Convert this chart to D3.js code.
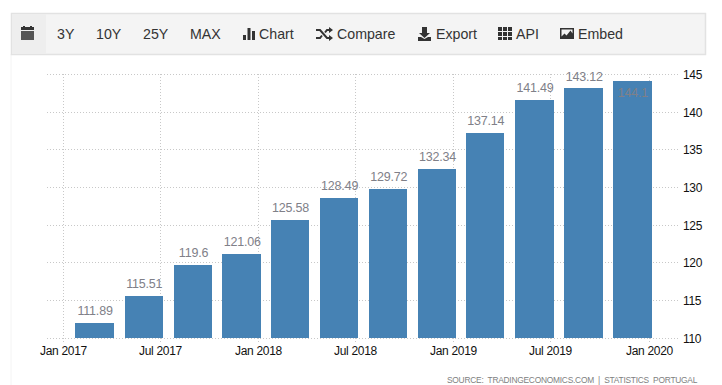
<!DOCTYPE html>
<html>
<head>
<meta charset="utf-8">
<script src="https://cdn.jsdelivr.net/npm/d3@7"></script>
<style>
html, body { margin: 0; padding: 0; background: #fff; }
svg { display: block; font-family: "Liberation Sans", Arial, sans-serif; }
.tick text { fill: #111; font-size: 12px; letter-spacing: -0.3px; }
.grid line, .grid path { stroke: #c8c8c8; stroke-dasharray: 1,2; }
.menu text { fill: #333; font-size: 14.2px; }
</style>
</head>
<body>
<div id="chart"></div>
<script>
var quarters = ["2017-03-01", "2017-06-01", "2017-09-01", "2017-12-01", "2018-03-01", "2018-06-01",
    "2018-09-01", "2018-12-01", "2019-03-01", "2019-06-01", "2019-09-01", "2019-12-01"];
var values = [111.89, 115.51, 119.6, 121.06, 125.58, 128.49, 129.72, 132.34, 137.14, 141.49, 143.12, 144.1];
var xTicks = ["2017-01-01", "2017-07-01", "2018-01-01", "2018-07-01", "2019-01-01", "2019-07-01", "2020-01-01"];
var yTicks = [110, 115, 120, 125, 130, 135, 140, 145];
var menuLabels = ["3Y", "10Y", "25Y", "MAX", "Chart", "Compare", "Export", "API", "Embed"];
var menuX = [57, 96, 143, 190, 259, 337, 436, 516, 578];

var width = 722;
var height = 385;
var parseDate = d3.utcParse("%Y-%m-%d");

var svg = d3.select("#chart")
    .append("svg")
    .attr("width", width)
    .attr("height", height);

var x = d3.scaleUtc()
    .domain([parseDate(xTicks[0]), parseDate(xTicks[xTicks.length - 1])])
    .range([63.5, 649.5]);

var y = d3.scaleLinear()
    .domain([110, 145])
    .range([338, 74.5]);

// page frame on the left of the plot
svg.append("line")
    .attr("x1", 11).attr("x2", 11)
    .attr("y1", 54).attr("y2", height)
    .style("stroke", "#f4f4f4");

// toolbar
var menu = svg.append("g").attr("class", "menu");
menu.append("rect")
    .attr("x", 11.5).attr("y", 13.5)
    .attr("width", 694).attr("height", 41)
    .style("fill", "#f4f4f4")
    .style("stroke", "#e2e2e2")
    .style("stroke-width", 1.5);
menu.append("rect")
    .attr("x", 12).attr("y", 14)
    .attr("width", 34).attr("height", 40)
    .style("fill", "#eeeeee");
menu.selectAll("text")
    .data(menuLabels)
    .enter().append("text")
    .attr("x", function(d, i) { return menuX[i]; })
    .attr("y", 39)
    .text(function(d) { return d; });

// toolbar icons, small glyphs in the same dark grey
var icons = menu.append("g").style("fill", "#333");
icons.append("path").attr("d", "M21 27h13v3h-13z M23 26h2v2h-2z M30 26h2v2h-2z");
icons.append("path").attr("d", "M21 31h13v9h-13z").style("fill", "#555");
icons.append("path").attr("d", "M243 35h3v5h-3z M247.500 28h3v12h-3z M252 31h3v9h-3z");
icons.append("path")
    .attr("d", "M316 30h4l7 8h3 M316 38h4l2-2.500 M325 32.500l2-2.500h3")
    .style("fill", "none").style("stroke", "#333").style("stroke-width", 2);
icons.append("path").attr("d", "M329 27l4 3-4 3z M329 35l4 3-4 3z");
icons.append("path").attr("d", "M422 27h5v6h3l-5.500 5-5.500-5h3z M418 37h3l3.500 2 3.500-2h3v4h-13z");
icons.append("path").attr("d", "M498 27h4v4h-4z M503 27h4v4h-4z M508 27h4v4h-4z M498 32h4v4h-4z M503 32h4v4h-4z M508 32h4v4h-4z M498 37h4v3h-4z M503 37h4v3h-4z M508 37h4v3h-4z");
icons.append("path")
    .attr("fill-rule", "evenodd")
    .attr("d", "M560 28h14v11h-14z M561.500 29.500v7l3-3 2 2 4-5 2 3v-4z");

// grid lines come from the axes with a long tick
var xAxis = d3.axisBottom(x)
    .tickValues(xTicks.map(parseDate))
    .tickFormat(d3.utcFormat("%b %Y"))
    .tickSize(269)
    .tickPadding(3);

var yAxis = d3.axisRight(y)
    .tickValues(yTicks)
    .tickSize(633)
    .tickPadding(3);

var xG = svg.append("g")
    .attr("class", "grid")
    .attr("transform", "translate(0,74)")
    .call(xAxis);
xG.select(".domain").remove();
// snap grid lines to whole pixels so the dots stay sharp
xG.selectAll(".tick")
    .attr("transform", function(d) { return "translate(" + (Math.floor(x(d) - 0.3) + 0.5) + ",0)"; });

var yG = svg.append("g")
    .attr("class", "grid")
    .attr("transform", "translate(47,0)")
    .call(yAxis);
yG.select(".domain").remove();
yG.selectAll(".tick")
    .attr("transform", function(d) { return "translate(0," + (Math.floor(y(d)) + 0.5) + ")"; });
yG.selectAll(".tick text").attr("dy", "0.41em");

var data = quarters.map(function(d, i) { return { date: parseDate(d), value: values[i] }; });

svg.selectAll("rect.bar")
    .data(data)
    .enter().append("rect")
    .attr("class", "bar")
    .attr("x", function(d) { return Math.round(x(d.date) - 19.8); })
    .attr("y", function(d) { return Math.floor(y(d.value)); })
    .attr("width", function(d) { return Math.round(x(d.date) + 18.6) - Math.round(x(d.date) - 19.8); })
    .attr("height", function(d) { return y(110) - Math.floor(y(d.value)); })
    .style("fill", "#4682b4");

// the top labels get pushed down so they stay in the plot
svg.selectAll("text.label")
    .data(data)
    .enter().append("text")
    .attr("class", "label")
    .attr("x", function(d) { return x(d.date); })
    .attr("y", function(d) {
        if (d.value === 144.1) return y(d.value) + 15.5;
        if (d.value === 143.12) return y(d.value) - 7.5;
        return y(d.value) - 8.5;
    })
    .attr("text-anchor", "middle")
    .style("font-size", "12.5px")
    .style("letter-spacing", "-0.2px")
    .style("fill", "#808088")
    .text(function(d) { return d.value; });

svg.append("text")
    .attr("x", 447)
    .attr("y", 383)
    .attr("xml:space", "preserve")
    .style("white-space", "pre")
    .style("font-size", "8.4px")
    .style("letter-spacing", "-0.24px")
    .style("fill", "#808080")
    .text("SOURCE:  TRADINGECONOMICS.COM  |  STATISTICS  PORTUGAL");
</script>
</body>
</html>
